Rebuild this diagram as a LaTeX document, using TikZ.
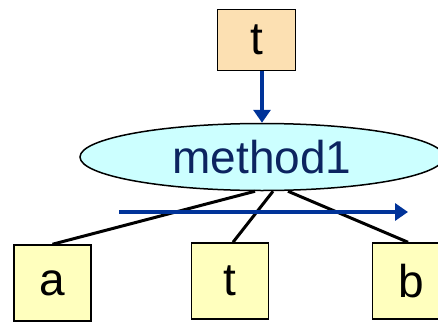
\documentclass[tikz,border=0pt]{standalone}
\usepackage{fontspec}
\setmainfont{Liberation Sans}
\usepackage{tikz}
\usetikzlibrary{shapes.geometric, arrows.meta}

\definecolor{peach}{RGB}{252,224,178}
\definecolor{paleyellow}{RGB}{255,255,190}
\definecolor{palecyan}{RGB}{204,255,255}
\definecolor{navy}{RGB}{12,36,96}
\definecolor{flowblue}{RGB}{0,51,153}

\begin{document}
\begin{tikzpicture}[x=1pt, y=-1pt,
    box/.style={draw, line width=1.5pt, inner sep=0pt, font=\fontsize{46}{46}\selectfont},
    leaf/.style={box, fill=paleyellow, minimum width=77pt, minimum height=76pt},
    edge/.style={line width=3pt},
    flow/.style={draw=flowblue, line width=3.5pt, -{Triangle[length=13pt, width=17pt]}}]

  \clip (0, 0) rectangle (438, 321);

  % incoming value
  \node[box, fill=peach, minimum width=78pt, minimum height=61pt] (top) at (256.5, 40) {t};

  % the method call
  \node[ellipse, draw, line width=1.5pt, fill=palecyan, inner sep=0pt,
        minimum width=364pt, minimum height=67pt,
        text=navy, font=\fontsize{46}{46}\selectfont] (meth) at (262, 157) {method1};

  \draw[flow] ([xshift=5.5pt]top.south) -- (meth.north);

  % arguments
  \node[leaf] (a) at (52.5, 283) {a};
  \node[leaf] (t) at (230, 281) {t};
  \node[leaf] (b) at (411, 281) {b};

  \draw[edge] ([xshift=-7pt]meth.south) -- (a.north);
  \draw[edge] ([xshift=11pt]meth.south) -- ([xshift=3pt]t.north);
  \draw[edge] ([xshift=26pt]meth.south) -- ([xshift=-3pt]b.north);

  % direction of evaluation
  \coordinate (from) at (119, 212);
  \coordinate (to) at (408, 212);
  \draw[flow] (from) -- (to);

\end{tikzpicture}
\end{document}
